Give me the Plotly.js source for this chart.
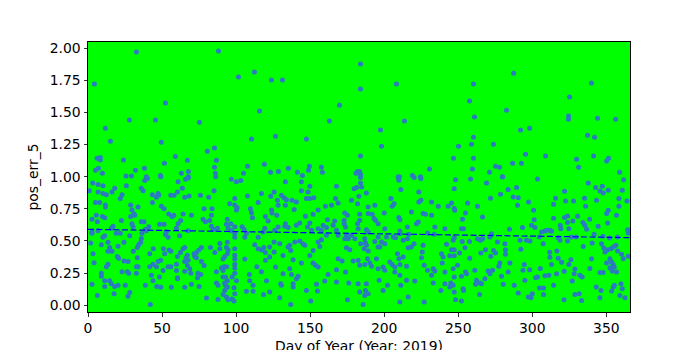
<!DOCTYPE html>
<html>
<head>
<meta charset="utf-8">
<script src="https://cdn.plot.ly/plotly-3.0.1.min.js"></script>
<style>html,body{margin:0;padding:0;background:#fff;}#chart{width:700px;height:350px;}</style>
</head>
<body>
<div id="chart"></div>
<script>
// ---- data (day of year, pos_err_5) ----
// high values (>= ~1.0)
const highDays = [
  32.7, 88.1, 4.3, 101.6, 112.4, 52.3, 115.8, 27.9, 45.5, 75.2,
  11.7, 15.1, 49.5, 110.4, 85.4, 80.6, 59.0, 6.1, 8.3, 8.3,
  23.9, 67.1, 86.7, 51.6, 119.1, 107.7, 85.4, 38.1, 5.0, 7.0,
  32.0, 9.7, 67.8, 63.0, 86.0, 105.0, 25.7, 29.3, 48.9, 67.8,
  39.4,
  184.0, 123.9, 131.3, 208.3, 184.0, 169.8, 163.0, 213.7, 197.5, 126.6,
  147.5, 198.2, 184.0, 149.5, 148.9, 135.3, 157.6, 158.3, 123.2, 128.6,
  141.4, 230.6, 144.8, 182.0, 183.4, 181.0, 184.0, 210.3, 219.1, 224.5,
  287.4, 260.3, 340.0, 325.2, 257.6, 282.6, 324.5, 324.5, 261.0, 344.1,
  356.3, 292.1, 298.2, 337.3, 342.1, 260.3, 250.2, 259.0, 273.8, 246.8,
  260.3, 295.5, 309.0, 329.9, 341.4, 351.5, 350.2, 275.2, 277.9, 286.7,
  292.7, 259.6, 271.1, 331.3, 359.0, 279.9
];
const highErr = [
  1.969, 1.977, 1.720, 1.774, 1.813, 1.572, 1.510, 1.440, 1.440, 1.424,
  1.377, 1.276, 1.268, 1.292, 1.222, 1.198, 1.157, 1.144, 1.150, 1.130,
  1.130, 1.128, 1.128, 1.105, 1.097, 1.082, 1.074, 1.066, 1.050, 1.066,
  1.050, 1.027, 1.040, 1.027, 1.027, 1.027, 1.006, 1.006, 1.010, 1.000,
  1.000,
  1.875, 1.751, 1.751, 1.720, 1.681, 1.556, 1.432, 1.432, 1.362, 1.315,
  1.292, 1.237, 1.160, 1.082, 1.050, 1.066, 1.074, 1.035, 1.035, 1.040,
  1.035, 1.060, 1.010, 1.040, 1.040, 1.027, 1.016, 1.000, 1.010, 1.000,
  1.805, 1.720, 1.728, 1.619, 1.588, 1.517, 1.471, 1.447, 1.463, 1.455,
  1.447, 1.362, 1.377, 1.323, 1.307, 1.307, 1.237, 1.253, 1.253, 1.144,
  1.144, 1.175, 1.160, 1.136, 1.160, 1.144, 1.121, 1.082, 1.074, 1.105,
  1.105, 1.060, 1.035, 1.074, 1.035, 1.000
];

// days 0-122, values below 1.0
const earlyDays = [
  3.2, 6.8, 10.1, 25.9, 38.3, 40.1, 49.1, 60.8, 65.8, 67.6,
  86.3, 96.8, 100.2, 103.2, 0.9, 6.8, 10.1, 12.4, 16.2, 18.0,
  23.0, 36.0, 37.2, 43.5, 47.3, 46.2, 47.7, 55.9, 58.1, 60.4,
  63.7, 65.3, 68.2, 75.9, 81.5, 85.1, 107.7, 117.1, 5.0, 7.9,
  11.7, 11.7, 21.8, 28.8, 29.7, 33.8, 31.1, 28.8, 43.5, 49.5,
  51.4, 54.5, 56.8, 57.9, 64.2, 69.8, 78.4, 83.8, 83.3, 77.7,
  95.7, 99.1, 99.1, 100.7, 100.2, 109.7, 110.4, 111.0, 114.9, 119.8,
  2.7, 5.6, 9.7, 11.3, 22.5, 31.5, 6.3, 36.0, 37.8, 29.7,
  30.4, 16.9, 15.8, 41.0, 38.7, 48.4, 51.4, 62.6, 60.8, 59.7,
  79.3, 82.2, 83.3, 84.5, 94.1, 96.4, 93.5, 94.6, 99.1, 96.8,
  104.1, 105.4, 2.7, 2.7, 6.8, 10.1, 11.3, 19.1, 21.8, 28.2,
  36.5, 39.4, 52.3, 52.9, 54.1, 61.9, 67.6, 87.4, 99.1, 99.1,
  105.9, 107.0, 114.9, 118.2, 119.4, 1.8, 9.0, 13.5, 14.6, 13.5,
  16.2, 20.3, 24.3, 36.0, 35.6, 34.2, 33.3, 30.6, 44.1, 41.7,
  50.9, 51.8, 54.7, 55.9, 62.4, 64.2, 65.3, 67.1, 66.2, 67.6,
  71.6, 73.2, 74.8, 76.6, 72.1, 73.2, 82.7, 85.6, 89.0, 89.0,
  94.1, 93.5, 94.6, 94.1, 92.3, 99.1, 99.1, 99.1, 105.9, 112.6,
  114.9, 117.1, 118.7, 119.8, 3.4, 4.1, 19.8, 20.7, 24.3, 27.0,
  33.3, 33.8, 32.7, 41.7, 43.9, 47.3, 49.1, 46.2, 54.1, 55.9,
  59.7, 60.4, 65.3, 67.1, 76.6, 78.4, 91.2, 91.9, 90.1, 93.5,
  99.1, 99.1, 114.0, 119.8, 13.5, 12.4, 9.0, 9.0, 23.0, 26.6,
  27.5, 32.7, 42.8, 43.9, 48.2, 50.7, 59.7, 60.4, 65.3, 68.7,
  69.4, 74.3, 76.1, 73.9, 86.7, 91.2, 92.8, 94.1, 92.3, 91.2,
  97.3, 99.1, 100.2, 109.0, 117.1, 120.5, 2.7, 11.3, 14.6, 15.8,
  18.0, 20.3, 25.2, 11.3, 17.6, 28.2, 27.0, 38.7, 46.4, 49.1,
  56.3, 60.4, 65.3, 69.8, 75.0, 86.7, 87.8, 92.8, 94.1, 92.3,
  98.6, 99.1, 91.2, 93.5, 97.3, 98.6, 109.2, 111.5, 107.0, 111.5,
  118.5, 6.3, 42.1, 80.0, 87.8, 94.6
];
const earlyErr = [
  0.95, 0.94, 0.93, 0.93, 0.97, 0.985, 1.00, 0.96, 0.98, 0.99,
  1.00, 0.98, 0.96, 0.97, 0.89, 0.88, 0.87, 0.86, 0.88, 0.91,
  0.86, 0.91, 0.89, 0.86, 0.87, 0.84, 0.855, 0.855, 0.855, 0.88,
  0.91, 0.84, 0.85, 0.855, 0.84, 0.89, 0.85, 0.87, 0.80, 0.80,
  0.78, 0.765, 0.83, 0.78, 0.74, 0.765, 0.71, 0.69, 0.80, 0.77,
  0.75, 0.71, 0.69, 0.70, 0.71, 0.70, 0.75, 0.75, 0.70, 0.67,
  0.79, 0.83, 0.78, 0.76, 0.74, 0.75, 0.72, 0.68, 0.80, 0.69,
  0.67, 0.70, 0.69, 0.68, 0.66, 0.70, 0.65, 0.65, 0.65, 0.635,
  0.61, 0.615, 0.60, 0.61, 0.59, 0.63, 0.63, 0.66, 0.635, 0.60,
  0.65, 0.66, 0.615, 0.59, 0.67, 0.635, 0.63, 0.60, 0.61, 0.58,
  0.61, 0.59, 0.57, 0.56, 0.58, 0.53, 0.54, 0.56, 0.56, 0.54,
  0.56, 0.58, 0.55, 0.57, 0.53, 0.54, 0.58, 0.60, 0.56, 0.53,
  0.53, 0.56, 0.53, 0.57, 0.60, 0.485, 0.47, 0.49, 0.45, 0.42,
  0.42, 0.46, 0.49, 0.52, 0.49, 0.47, 0.45, 0.42, 0.44, 0.40,
  0.44, 0.40, 0.43, 0.42, 0.41, 0.44, 0.45, 0.39, 0.37, 0.35,
  0.40, 0.41, 0.43, 0.45, 0.38, 0.37, 0.45, 0.41, 0.44, 0.48,
  0.49, 0.45, 0.43, 0.40, 0.38, 0.44, 0.39, 0.36, 0.36, 0.47,
  0.44, 0.43, 0.45, 0.41, 0.40, 0.33, 0.38, 0.365, 0.345, 0.34,
  0.37, 0.30, 0.30, 0.30, 0.32, 0.34, 0.35, 0.30, 0.30, 0.30,
  0.32, 0.38, 0.34, 0.31, 0.34, 0.31, 0.36, 0.30, 0.29, 0.30,
  0.32, 0.29, 0.30, 0.35, 0.32, 0.30, 0.25, 0.225, 0.26, 0.26,
  0.25, 0.25, 0.233, 0.19, 0.22, 0.27, 0.27, 0.215, 0.264, 0.285,
  0.25, 0.25, 0.24, 0.215, 0.26, 0.27, 0.22, 0.19, 0.173, 0.22,
  0.22, 0.25, 0.19, 0.24, 0.26, 0.19, 0.163, 0.19, 0.19, 0.168,
  0.147, 0.155, 0.155, 0.147, 0.09, 0.10, 0.07, 0.155, 0.147, 0.14,
  0.14, 0.207, 0.14, 0.163, 0.147, 0.173, 0.155, 0.155, 0.14, 0.116,
  0.137, 0.09, 0.085, 0.064, 0.05, 0.033, 0.19, 0.155, 0.11, 0.11,
  0.085, 0.077, 0.007, 0.056, 0.046, 0.043
];

// days 122-243, values below 1.0
const midDays = [
  133.3, 144.1, 149.8, 144.1, 148.6, 167.8, 179.7, 181.3, 184.0, 184.0,
  184.7, 188.0, 182.9, 182.0, 177.9, 168.9, 167.1, 164.4, 160.3, 155.4,
  152.0, 146.8, 147.5, 149.8, 152.5, 125.7, 123.4, 127.9, 130.6, 132.4,
  134.0, 137.8, 140.7, 139.2, 123.9, 124.3, 127.5, 133.3, 128.4, 209.9,
  209.4, 220.2, 224.8, 211.2, 223.4, 223.4, 224.8, 232.0, 236.5, 204.5,
  206.7, 205.4, 200.0, 193.7, 189.2, 189.2, 191.9, 183.5, 183.5, 173.4,
  175.2, 173.0, 173.0, 173.9, 166.6, 165.5, 161.7, 161.0, 158.8, 157.6,
  155.4, 149.8, 148.2, 150.9, 143.0, 140.7, 135.1, 132.9, 133.3, 128.4,
  126.1, 121.6, 182.4, 182.0, 188.0, 189.2, 194.1, 193.2, 195.9, 200.4,
  209.9, 210.6, 218.4, 226.3, 227.9, 232.0, 223.0, 221.8, 215.7, 210.6,
  210.6, 215.7, 216.6, 229.3, 234.2, 241.0, 233.8, 212.8, 206.1, 207.6,
  201.6, 195.9, 198.2, 200.4, 193.7, 186.9, 187.4, 188.0, 186.5, 184.2,
  180.2, 177.9, 173.4, 175.7, 174.5, 168.9, 167.8, 161.0, 157.6, 155.4,
  146.4, 145.2, 143.0, 139.6, 136.2, 135.1, 136.9, 129.5, 125.7, 122.7,
  122.7, 125.7, 131.7, 138.5, 144.1, 149.8, 152.0, 156.5, 152.0, 153.6,
  155.4, 168.9, 171.6, 176.8, 174.5, 179.0, 182.4, 183.5, 186.9, 188.7,
  189.2, 190.3, 194.8, 191.4, 195.9, 199.3, 200.4, 195.9, 197.1, 203.8,
  205.4, 207.2, 209.0, 209.9, 210.6, 207.2, 210.6, 212.8, 215.1, 218.4,
  220.2, 216.2, 226.3, 225.7, 225.2, 227.0, 229.3, 232.0, 233.1, 234.2,
  238.7, 239.8, 239.2, 241.0, 242.1, 241.0, 233.1, 220.7, 215.1, 211.2,
  202.2, 196.6, 199.3, 188.0, 187.4, 186.9, 189.2, 185.8, 183.5, 182.4,
  173.9, 176.1, 167.8, 167.8, 162.1, 159.9, 154.3, 154.9, 147.5, 141.9,
  140.7, 138.5, 138.5, 131.7, 136.2, 137.4, 130.2, 130.6, 126.6, 122.7,
  129.5, 136.9, 150.4, 175.2, 210.6, 216.2, 227.0, 238.3
];
const midErr = [
  0.96, 0.96, 0.925, 0.89, 0.88, 0.925, 0.907, 0.915, 0.993, 0.951,
  0.92, 0.873, 0.848, 0.79, 0.816, 0.796, 0.83, 0.778, 0.77, 0.74,
  0.708, 0.692, 0.83, 0.83, 0.837, 0.88, 0.848, 0.816, 0.855, 0.837,
  0.82, 0.816, 0.803, 0.744, 0.74, 0.718, 0.70, 0.778, 0.778, 0.972,
  0.998, 0.993, 0.985, 0.90, 0.88, 0.803, 0.816, 0.803, 0.77, 0.83,
  0.79, 0.77, 0.718, 0.778, 0.765, 0.713, 0.708, 0.708, 0.661, 0.718,
  0.70, 0.661, 0.635, 0.609, 0.656, 0.622, 0.666, 0.604, 0.622, 0.583,
  0.596, 0.64, 0.609, 0.583, 0.64, 0.622, 0.604, 0.614, 0.635, 0.609,
  0.583, 0.656, 0.596, 0.635, 0.588, 0.57, 0.661, 0.674, 0.635, 0.596,
  0.682, 0.666, 0.726, 0.713, 0.708, 0.70, 0.648, 0.635, 0.609, 0.578,
  0.557, 0.518, 0.552, 0.562, 0.609, 0.596, 0.552, 0.505, 0.531, 0.526,
  0.531, 0.531, 0.492, 0.479, 0.497, 0.518, 0.484, 0.466, 0.44, 0.479,
  0.518, 0.544, 0.518, 0.518, 0.544, 0.544, 0.583, 0.544, 0.51, 0.492,
  0.466, 0.479, 0.50, 0.492, 0.466, 0.453, 0.427, 0.479, 0.492, 0.453,
  0.375, 0.414, 0.388, 0.355, 0.329, 0.388, 0.427, 0.458, 0.329, 0.311,
  0.298, 0.362, 0.344, 0.432, 0.448, 0.344, 0.35, 0.311, 0.318, 0.362,
  0.422, 0.329, 0.362, 0.303, 0.285, 0.298, 0.272, 0.453, 0.453, 0.337,
  0.318, 0.298, 0.401, 0.362, 0.318, 0.259, 0.233, 0.375, 0.303, 0.453,
  0.479, 0.448, 0.466, 0.414, 0.37, 0.311, 0.272, 0.233, 0.285, 0.266,
  0.401, 0.375, 0.329, 0.259, 0.474, 0.168, 0.173, 0.189, 0.194, 0.155,
  0.155, 0.194, 0.116, 0.168, 0.116, 0.077, 0.09, 0.007, 0.103, 0.168,
  0.259, 0.173, 0.277, 0.181, 0.24, 0.189, 0.163, 0.111, 0.116, 0.225,
  0.207, 0.168, 0.142, 0.246, 0.285, 0.24, 0.168, 0.155, 0.298, 0.103,
  0.059, 0.007, 0.033, 0.043, 0.025, 0.064, 0.025, 0.116
];

// days 243-366, values below 1.0
const lateDays = [
  248.2, 258.3, 269.1, 279.9, 303.6, 337.8, 361.7, 247.3, 283.7, 289.4,
  278.6, 271.8, 256.3, 245.5, 243.2, 247.3, 247.7, 263.0, 266.4, 252.9,
  254.9, 287.1, 290.5, 290.0, 297.5, 300.9, 301.3, 293.4, 299.5, 301.8,
  315.7, 314.4, 314.4, 321.8, 322.5, 327.9, 335.3, 336.0, 338.7, 334.2,
  335.5, 336.7, 330.6, 327.4, 323.8, 321.8, 323.8, 318.9, 319.3, 309.9,
  308.5, 306.3, 311.9, 313.0, 342.8, 345.7, 347.9, 347.3, 351.3, 343.4,
  350.2, 351.3, 356.9, 358.5, 358.5, 363.9, 360.8, 344.5, 350.9, 341.8,
  347.7, 352.2, 357.6, 364.4, 364.8, 252.2, 253.6, 272.5, 284.6, 304.7,
  317.5, 318.7, 323.8, 324.7, 329.7, 326.5, 334.4, 340.5, 346.8, 348.2,
  349.1, 350.9, 353.1, 354.7, 356.5, 357.6, 360.3, 364.8, 247.3, 246.6,
  252.7, 257.6, 263.0, 265.0, 266.4, 271.4, 276.5, 281.5, 291.8, 296.1,
  298.4, 292.3, 281.9, 281.9, 275.2, 273.8, 272.0, 268.4, 265.3, 257.8,
  254.5, 250.9, 247.3, 245.5, 244.3, 247.3, 311.7, 311.9, 316.6, 317.5,
  319.8, 326.1, 313.0, 307.4, 340.0, 338.9, 350.2, 352.4, 353.6, 354.7,
  355.4, 352.4, 354.0, 356.9, 361.4, 347.9, 345.7, 321.6, 328.8, 328.3,
  332.2, 333.7, 327.0, 324.7, 316.4, 311.2, 308.5, 305.4, 303.6, 302.2,
  294.6, 298.2, 293.7, 284.9, 283.7, 278.1, 277.4, 279.2, 273.2, 271.4,
  270.2, 268.0, 265.7, 262.3, 261.7, 264.8, 261.2, 255.6, 254.9, 252.2,
  249.5, 246.6, 247.3, 245.0, 244.3, 246.6, 247.3, 248.2, 252.2, 253.3,
  253.6, 264.4, 280.4, 287.8, 290.5, 295.0, 297.3, 299.1, 300.0, 304.9,
  307.6, 307.6, 314.4, 321.4, 328.8, 331.7, 333.3, 343.2, 346.4, 345.7,
  353.6, 354.7, 355.4, 360.8, 359.2, 362.6, 359.9
];
const lateErr = [
  0.977, 0.982, 0.951, 0.998, 0.982, 0.951, 0.977, 0.907, 0.90, 0.915,
  0.863, 0.832, 0.796, 0.796, 0.77, 0.752, 0.739, 0.77, 0.687, 0.669,
  0.718, 0.842, 0.837, 0.778, 0.803, 0.739, 0.666, 0.604, 0.622, 0.604,
  0.832, 0.785, 0.676, 0.886, 0.811, 0.811, 0.832, 0.77, 0.669, 0.643,
  0.622, 0.591, 0.692, 0.656, 0.695, 0.682, 0.643, 0.622, 0.596, 0.583,
  0.578, 0.57, 0.583, 0.575, 0.915, 0.889, 0.873, 0.925, 0.894, 0.816,
  0.713, 0.739, 0.70, 0.77, 0.83, 0.811, 0.894, 0.614, 0.64, 0.552,
  0.536, 0.523, 0.531, 0.588, 0.562, 0.596, 0.596, 0.557, 0.591, 0.531,
  0.526, 0.505, 0.50, 0.596, 0.531, 0.531, 0.458, 0.484, 0.479, 0.448,
  0.414, 0.432, 0.44, 0.453, 0.466, 0.422, 0.396, 0.381, 0.526, 0.505,
  0.497, 0.497, 0.518, 0.505, 0.518, 0.531, 0.492, 0.479, 0.505, 0.505,
  0.50, 0.435, 0.432, 0.396, 0.407, 0.427, 0.381, 0.432, 0.407, 0.365,
  0.448, 0.407, 0.432, 0.432, 0.386, 0.386, 0.412, 0.373, 0.422, 0.365,
  0.334, 0.355, 0.318, 0.479, 0.362, 0.287, 0.329, 0.362, 0.337, 0.318,
  0.298, 0.292, 0.266, 0.259, 0.362, 0.256, 0.256, 0.264, 0.282, 0.246,
  0.233, 0.22, 0.189, 0.318, 0.246, 0.233, 0.23, 0.287, 0.22, 0.215,
  0.318, 0.277, 0.272, 0.329, 0.259, 0.329, 0.303, 0.225, 0.272, 0.246,
  0.267, 0.207, 0.168, 0.194, 0.163, 0.173, 0.272, 0.246, 0.259, 0.225,
  0.311, 0.285, 0.22, 0.173, 0.142, 0.155, 0.103, 0.043, 0.033, 0.129,
  0.116, 0.085, 0.163, 0.155, 0.095, 0.194, 0.064, 0.059, 0.09, 0.134,
  0.134, 0.085, 0.155, 0.043, 0.085, 0.09, 0.038, 0.142, 0.116, 0.059,
  0.111, 0.142, 0.155, 0.129, 0.077, 0.059, 0.168
];

// linear trend line endpoints
const trendDays = [0, 366];
const trendErr = [0.591, 0.526];

// tick labels and axis titles
const xTicks = [0, 50, 100, 150, 200, 250, 300, 350];
const yTicks = [0, 0.25, 0.5, 0.75, 1.0, 1.25, 1.5, 1.75, 2.0];
const xTitle = 'Day of Year (Year: 2019)';
const yTitle = 'pos_err_5';

const allDays = highDays.concat(earlyDays, midDays, lateDays);
const allErr = highErr.concat(earlyErr, midErr, lateErr);

const font = {family: 'DejaVu Sans, sans-serif', size: 13.9, color: '#000'};

const traces = [
  {
    type: 'scatter', mode: 'markers', x: allDays, y: allErr,
    marker: {color: '#2a7bc0', size: 5, line: {width: 0}},
    hoverinfo: 'skip', showlegend: false
  },
  {
    type: 'scatter', mode: 'lines', x: trendDays, y: trendErr,
    line: {color: '#0000ff', width: 1.2, dash: '6px,2.5px'},
    hoverinfo: 'skip', showlegend: false
  }
];

const layout = {
  width: 700, height: 350,
  margin: {l: 88, r: 70, t: 42, b: 38, pad: 0},
  paper_bgcolor: '#ffffff',
  plot_bgcolor: '#00ff00',
  font: font,
  showlegend: false,
  xaxis: {
    range: [0, 366], tickvals: xTicks, ticktext: xTicks.map(String),
    showgrid: false, zeroline: false,
    showline: true, linecolor: '#000', linewidth: 1, mirror: true,
    ticks: 'outside', ticklen: 3.5, tickwidth: 0.8, tickcolor: '#000',
    tickfont: font, automargin: false
  },
  yaxis: {
    range: [-0.052, 2.047], tickvals: yTicks, ticktext: yTicks.map(v => v.toFixed(2)),
    showgrid: false, zeroline: false,
    showline: true, linecolor: '#000', linewidth: 1, mirror: true,
    ticks: 'outside', ticklen: 3.5, tickwidth: 0.8, tickcolor: '#000',
    tickfont: font, automargin: false,
    title: {text: yTitle, font: font, standoff: 7}
  },
  annotations: [{
    text: xTitle, font: font, showarrow: false,
    xref: 'paper', yref: 'paper', x: 0.5, y: -0.088,
    xanchor: 'center', yanchor: 'top'
  }]
};

Plotly.newPlot('chart', traces, layout, {staticPlot: true, displayModeBar: false});
</script>
</body>
</html>
